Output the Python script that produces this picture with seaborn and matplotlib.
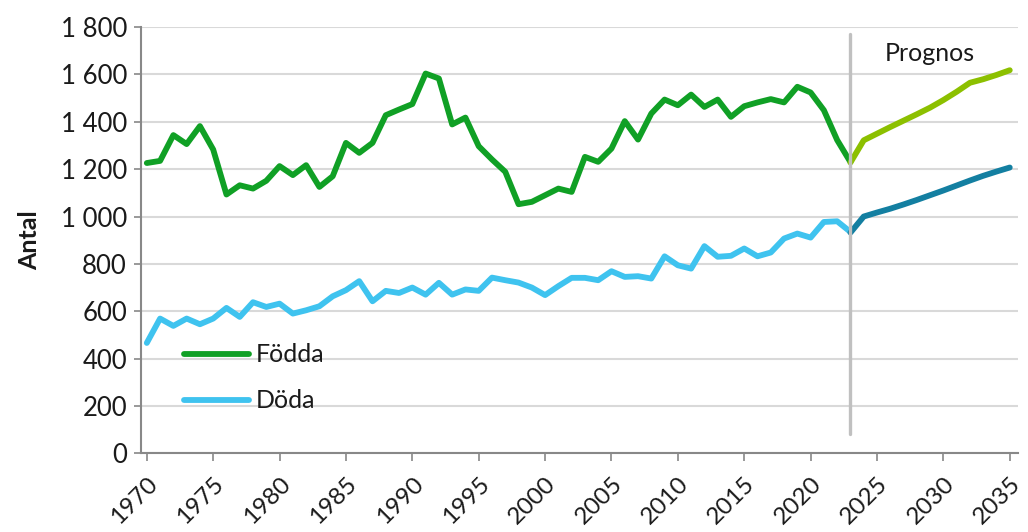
import numpy as np
import pandas as pd
import matplotlib
matplotlib.use("Agg")
import matplotlib.pyplot as plt
import seaborn as sns

# historical data 1970-2023
years = list(range(1970, 2024))
fodda = [1226, 1235, 1344, 1306, 1382, 1283, 1093, 1132, 1118, 1151,
         1213, 1175, 1217, 1125, 1170, 1311, 1269, 1311, 1428, 1452,
         1475, 1604, 1583, 1389, 1418, 1297, 1241, 1189, 1052, 1062,
         1090, 1118, 1104, 1252, 1231, 1287, 1403, 1325, 1435, 1494,
         1470, 1515, 1463, 1494, 1421, 1466, 1482, 1496, 1482, 1548,
         1524, 1449, 1323, 1230]
doda = [466, 569, 538, 569, 545, 569, 614, 576, 638, 618,
        632, 590, 604, 621, 663, 689, 727, 642, 686, 677,
        700, 670, 720, 670, 692, 686, 742, 731, 721, 700,
        668, 706, 741, 741, 731, 769, 745, 748, 738, 832,
        794, 780, 875, 830, 834, 865, 832, 848, 907, 928,
        911, 977, 980, 935]

# prognosis 2023-2035
prog_years = list(range(2023, 2036))
prog_fodda = [1228, 1322, 1350, 1378, 1405, 1432, 1460, 1492, 1527, 1565, 1580, 1598, 1618]
prog_doda = [932, 1000, 1017, 1033, 1051, 1070, 1090, 1110, 1131, 1152, 1172, 1190, 1207]

ytick_vals = [0, 200, 400, 600, 800, 1000, 1200, 1400, 1600, 1800]
ytick_labels = ["0", "200", "400", "600", "800", "1 000", "1 200", "1 400", "1 600", "1 800"]
xtick_vals = list(range(1970, 2040, 5))

sns.set_style("white")
plt.rcParams['font.family'] = ['Lato', 'DejaVu Sans']
txt = "#1a1a1a"

fig, ax = plt.subplots(figsize=(10.28, 5.32), dpi=100)
fig.subplots_adjust(left=0.137, right=0.99, top=0.949, bottom=0.148)

lw = 4.2
sns.lineplot(x=years, y=fodda, ax=ax, color="#10a025", linewidth=lw, label="Födda")
sns.lineplot(x=years, y=doda, ax=ax, color="#3fc3ef", linewidth=lw, label="Döda")
sns.lineplot(x=prog_years, y=prog_fodda, ax=ax, color="#8cc000", linewidth=lw)
sns.lineplot(x=prog_years, y=prog_doda, ax=ax, color="#137fa1", linewidth=lw)

# prognosis divider
ax.plot([2023, 2023], [80, 1770], color="#c0c0c0", linewidth=2.4, zorder=5)
ax.text(2029, 1690, "Prognos", fontsize=18, ha="center", va="center", color=txt)

ax.set_xlim(1969.55, 2035.6)
ax.set_ylim(0, 1800)
ax.set_yticks(ytick_vals)
ax.set_yticklabels(ytick_labels, fontsize=18.5, color=txt)
ax.set_xticks(xtick_vals)
ax.set_xticklabels([str(x) for x in xtick_vals], fontsize=17.5, color=txt, rotation=45,
                   ha="right", rotation_mode="anchor")
ax.set_ylabel("Antal", fontsize=18, fontweight="bold", color=txt, labelpad=14)
ax.set_xlabel("")

ax.grid(axis="y", color="#d9d9d9", linewidth=1.5)
ax.set_axisbelow(True)
for s in ["top", "right"]:
    ax.spines[s].set_visible(False)
ax.spines["left"].set_color("#888888")
ax.spines["bottom"].set_color("#888888")
ax.spines["left"].set_linewidth(1.5)
ax.spines["bottom"].set_linewidth(1.5)
ax.tick_params(axis="x", bottom=True, length=6, color="#888888", width=1.2, pad=8)
ax.tick_params(axis="y", left=True, length=5, color="#888888", width=1.2, pad=5)

leg = ax.legend(loc="lower left", bbox_to_anchor=(0.023, 0.043), frameon=False,
                prop={"size": 18}, handlelength=2.6, handletextpad=0.3, labelspacing=0.92)
for t in leg.get_texts():
    t.set_color(txt)

plt.savefig("out.png", dpi=100)
